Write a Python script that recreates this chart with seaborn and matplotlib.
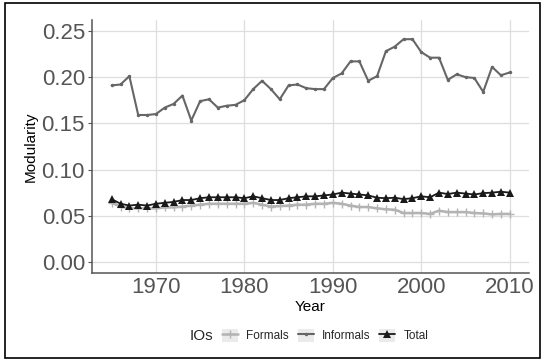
import pandas as pd
import matplotlib
matplotlib.use('Agg')
import matplotlib.pyplot as plt
import seaborn as sns
from matplotlib.patches import Rectangle
from matplotlib.lines import Line2D

# Data
years = list(range(1965, 2011))

formals = [0.064, 0.060, 0.058, 0.058, 0.058, 0.058, 0.059, 0.059, 0.060, 0.061,
           0.062, 0.063, 0.063, 0.063, 0.063, 0.063, 0.064, 0.062, 0.060, 0.0605,
           0.061, 0.062, 0.062, 0.063, 0.063, 0.064, 0.063, 0.061, 0.0595, 0.0595,
           0.058, 0.057, 0.0565, 0.053, 0.053, 0.053, 0.052, 0.0555, 0.054, 0.054,
           0.054, 0.053, 0.0525, 0.0515, 0.052, 0.052]

informals = [0.191, 0.192, 0.201, 0.159, 0.159, 0.160, 0.167, 0.171, 0.180, 0.153,
             0.174, 0.176, 0.167, 0.169, 0.170, 0.175, 0.187, 0.196, 0.187, 0.176,
             0.191, 0.192, 0.188, 0.187, 0.187, 0.199, 0.204, 0.217, 0.217, 0.196,
             0.201, 0.228, 0.233, 0.241, 0.241, 0.227, 0.221, 0.221, 0.197, 0.203,
             0.200, 0.199, 0.184, 0.211, 0.202, 0.205]

total = [0.068, 0.063, 0.061, 0.062, 0.061, 0.063, 0.064, 0.065, 0.067, 0.067,
         0.069, 0.070, 0.070, 0.070, 0.070, 0.069, 0.071, 0.069, 0.067, 0.067,
         0.069, 0.070, 0.071, 0.071, 0.072, 0.073, 0.075, 0.074, 0.073, 0.072,
         0.0695, 0.069, 0.0695, 0.068, 0.069, 0.071, 0.070, 0.075, 0.0735, 0.075,
         0.074, 0.073, 0.0745, 0.075, 0.076, 0.075]

series_names = ['Formals', 'Informals', 'Total']

df = pd.DataFrame({
    'Year': years * 3,
    'Modularity': formals + informals + total,
    'IOs': [n for n in series_names for _ in years],
})

sns.set_style('white')
plt.rcParams['font.family'] = ['Liberation Sans', 'DejaVu Sans']

fig = plt.figure(figsize=(5.44, 3.6), dpi=100)
ax = fig.add_axes([0.169, 0.241, 0.803, 0.703])

styles = {
    'Formals':   dict(color='#b3b3b3', marker='+', markersize=6, linewidth=1.8, mew=1.0),
    'Informals': dict(color='#666666', marker='o', markersize=2.5, linewidth=1.5, mew=0),
    'Total':     dict(color='#1a1a1a', marker='^', markersize=6, linewidth=1.3, mew=0),
}

for name in series_names:
    st = styles[name]
    sns.lineplot(data=df[df['IOs'] == name], x='Year', y='Modularity', ax=ax,
                 color=st['color'], marker=st['marker'], markersize=st['markersize'],
                 linewidth=st['linewidth'], markeredgewidth=st['mew'],
                 markeredgecolor=st['color'], legend=False)

ax.set_xlim(1962.77, 2012.15)
ax.set_ylim(-0.0122, 0.2616)
ax.set_xticks([1970, 1980, 1990, 2000, 2010])
ax.set_yticks([0.00, 0.05, 0.10, 0.15, 0.20, 0.25])
ax.set_yticklabels(['0.00', '0.05', '0.10', '0.15', '0.20', '0.25'])

ax.grid(True, color='#dedede', linewidth=0.9)
ax.set_axisbelow(True)
for s in ['top', 'right']:
    ax.spines[s].set_visible(False)
for s in ['left', 'bottom']:
    ax.spines[s].set_color('#555555')
    ax.spines[s].set_linewidth(1.1)

ax.tick_params(axis='y', labelsize=16, labelcolor='#555555', length=3,
               width=0.8, color='#555555', pad=2, left=True)
ax.tick_params(axis='x', labelsize=16, labelcolor='#555555', length=0, pad=3)

ax.set_xlabel('Year', fontsize=11, color='black')
ax.set_ylabel('Modularity', fontsize=11, color='black')
ax.xaxis.set_label_coords(0.5, -0.107)
ax.yaxis.set_label_coords(-0.124, 0.5)

# legend at the bottom, title on the left
handles = []
for name in series_names:
    st = styles[name]
    bg = Rectangle((0, 0), 1, 1, facecolor='#ebebeb', edgecolor='none')
    ln = Line2D([], [], color=st['color'], marker=st['marker'],
                markersize=st['markersize'], linewidth=st['linewidth'],
                markeredgewidth=st['mew'], markeredgecolor=st['color'])
    handles.append((bg, ln))

fig.legend(handles, series_names, ncol=3, loc='center left',
           bbox_to_anchor=(222 / 544, 1 - 335.5 / 360), frameon=False,
           fontsize=8.5, handlelength=1.35, handleheight=1.35,
           handletextpad=0.7, columnspacing=0.75, borderpad=0, borderaxespad=0)
fig.text(190 / 544, 1 - 336 / 360, 'IOs', fontsize=11, va='center', ha='left')

# outer border around the figure
fig.patches.append(Rectangle((5 / 544, 2 / 360), 535 / 544, 355 / 360,
                             transform=fig.transFigure, fill=False,
                             edgecolor='black', linewidth=1.2))

fig.savefig('out.png', dpi=100)
